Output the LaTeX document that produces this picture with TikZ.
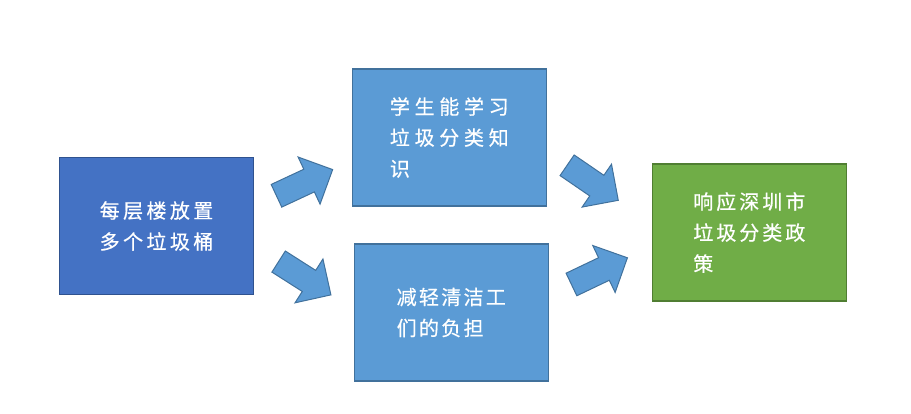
\documentclass[tikz,border=0pt]{standalone}
\usepackage{fontspec}
\usepackage{xcolor}
\usepackage{tikz}
\newfontfamily\cjk[FakeBold=0.6]{Noto Sans CJK SC}
\usetikzlibrary{shapes.arrows,positioning}

\definecolor{deepblue}{HTML}{4472C4}
\definecolor{deepblueedge}{HTML}{2F528F}
\definecolor{skyblue}{HTML}{5B9BD5}
\definecolor{skyblueedge}{HTML}{41719C}
\definecolor{leafgreen}{HTML}{70AD47}
\definecolor{leafgreenedge}{HTML}{507E32}

\tikzset{
  card/.style={draw, line width=1.2pt, minimum width=194pt, minimum height=137pt,
    inner sep=0pt, align=left, text=white,
    font=\cjk\fontsize{20}{31}\selectfont\addfontfeature{LetterSpace=#1}},
  blockarrow/.style={single arrow, draw=skyblueedge, fill=skyblue, line width=1pt,
    minimum height=62pt, single arrow head extend=13.5pt,
    inner xsep=0pt, inner ysep=12pt, anchor=tail}
}

\begin{document}
\begin{tikzpicture}[x=1pt, y=-1pt]
    \useasboundingbox (0,0) rectangle (911,414);

    % Measure
    \node[card=17, fill=deepblue, draw=deepblueedge] (floors) at (156.5,226)
        {每层楼放置\\多个垃圾桶};

    % Outcomes
    \node[card=23.5, fill=skyblue, draw=skyblueedge] (learn) at (449.3,137.5)
        {学生能学习\\垃圾分类知\\识};
    \node[card=11.5, fill=skyblue, draw=skyblueedge] (relieve) at (451.3,312.5)
        {减轻清洁工\\们的负担};

    % Goal
    \node[card=15, fill=leafgreen, draw=leafgreenedge] (policy) at (749.3,232.5)
        {响应深圳市\\垃圾分类政\\策};

    % Block arrows
    \node[blockarrow, rotate=25] (arrowA) at (276,196) {};
    \node[blockarrow, rotate=-32.5] (arrowB) at (278.2,261.3) {};
    \node[blockarrow, rotate=-34.4] (arrowC) at (566.7,165) {};
    \node[blockarrow, rotate=25.5] (arrowD) at (571,284.7) {};
\end{tikzpicture}
\end{document}
